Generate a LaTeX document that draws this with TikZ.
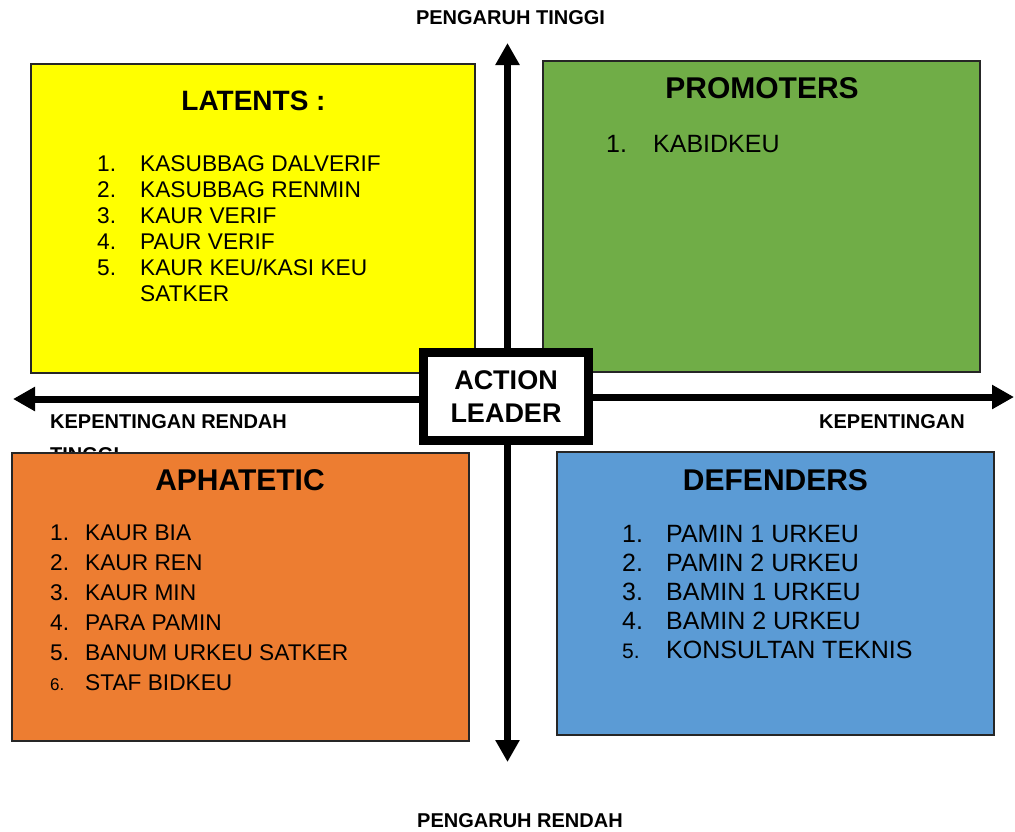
\documentclass[tikz,border=0pt]{standalone}
\usepackage{fontspec}
\setmainfont{Liberation Sans}
\usetikzlibrary{arrows.meta}
\definecolor{cyel}{HTML}{FFFF00}
\definecolor{cgrn}{HTML}{70AD47}
\definecolor{corg}{HTML}{ED7D31}
\definecolor{cblu}{HTML}{5B9BD5}
\begin{document}
\begin{tikzpicture}[x=1pt,y=-1pt,
  quad/.style={draw=black!85, line width=1.3pt, inner sep=0pt, outer sep=0pt, anchor=north west},
  ttl/.style={font=\bfseries\fontsize{30}{35}\selectfont, anchor=base, inner sep=0pt},
  itm/.style={font=\fontsize{22.7}{27}\selectfont, anchor=base west, inner sep=0pt},
  itmb/.style={font=\fontsize{25}{29}\selectfont, anchor=base west, inner sep=0pt},
  lbl/.style={font=\bfseries\fontsize{20}{24}\selectfont, inner sep=0pt},
  axis/.style={line width=7pt, -{Triangle[length=22pt,width=23pt]}}
]
\useasboundingbox (0,0) rectangle (1015,831);

% axis labels
\node[lbl, anchor=base] (ptop) at (510.5,24.5) {PENGARUH TINGGI};
\node[lbl, anchor=base] (pbot) at (520,827) {PENGARUH RENDAH};
\node[lbl, anchor=base west] (krend) at (50,428) {KEPENTINGAN RENDAH};
\node[lbl, anchor=base west] (ktinggi) at (50,461) {TINGGI};
\node[lbl, anchor=base west] (kright) at (819,428) {KEPENTINGAN};

% quadrants
\node[quad, fill=cyel, minimum width=444pt, minimum height=309pt] (lat) at (31,64) {};
\node[quad, fill=cgrn, minimum width=437pt, minimum height=311pt] (pro) at (543,61) {};
\node[quad, fill=corg, minimum width=457pt, minimum height=288pt] (aph) at (12,453) {};
\node[quad, fill=cblu, minimum width=437pt, minimum height=283pt] (def) at (557,452) {};

% axis end points
\coordinate (up) at (507.5,43);
\coordinate (down) at (507.5,762);
\coordinate (left) at (13,399);
\coordinate (right) at (1014,397);

% center box
\node[draw=black, fill=white, line width=9pt, minimum width=165pt, minimum height=88pt, inner sep=0pt,
      align=center, font=\bfseries\fontsize{27}{33}\selectfont] (ctr) at (506,396.5) {ACTION\\LEADER};

\draw[axis] (ctr.north -| up) -- (up);
\draw[axis] (ctr.south -| down) -- (down);
\draw[axis] (ctr.west |- left) -- (left);
\draw[axis] (ctr.east |- right) -- (right);

% LATENTS
\node[ttl, font=\bfseries\fontsize{28}{33}\selectfont] (latt) at (253.5,110.5) {LATENTS :};
\node[itm] (ln1) at (97,171) {1.};  \node[itm] (lt1) at (140,171) {KASUBBAG DALVERIF};
\node[itm] (ln2) at (97,197) {2.};  \node[itm] (lt2) at (140,197) {KASUBBAG RENMIN};
\node[itm] (ln3) at (97,223) {3.};  \node[itm] (lt3) at (140,223) {KAUR VERIF};
\node[itm] (ln4) at (97,249) {4.};  \node[itm] (lt4) at (140,249) {PAUR VERIF};
\node[itm] (ln5) at (97,275) {5.};  \node[itm] (lt5) at (140,275) {KAUR KEU/KASI KEU};
\node[itm] (lt6) at (140,301) {SATKER};

% PROMOTERS
\node[ttl] (prot) at (762,98.5) {PROMOTERS};
\node[itmb] (pn1) at (606,152) {1.}; \node[itmb] (pt1) at (653,152) {KABIDKEU};

% APHATETIC
\node[ttl] (apht) at (240,490.5) {APHATETIC};
\node[itm] (an1) at (50,540) {1.}; \node[itm] (at1) at (85,540) {KAUR BIA};
\node[itm] (an2) at (50,570) {2.}; \node[itm] (at2) at (85,570) {KAUR REN};
\node[itm] (an3) at (50,600) {3.}; \node[itm] (at3) at (85,600) {KAUR MIN};
\node[itm] (an4) at (50,630) {4.}; \node[itm] (at4) at (85,630) {PARA PAMIN};
\node[itm] (an5) at (50,660) {5.}; \node[itm] (at5) at (85,660) {BANUM URKEU SATKER};
\node[itm, font=\fontsize{17}{20}\selectfont] (an6) at (50,690) {6.}; \node[itm] (at6) at (85,690) {STAF BIDKEU};

% DEFENDERS
\node[ttl] (deft) at (775.5,490.5) {DEFENDERS};
\node[itmb] (dn1) at (622,542) {1.}; \node[itmb] (dt1) at (666,542) {PAMIN 1 URKEU};
\node[itmb] (dn2) at (622,571) {2.}; \node[itmb] (dt2) at (666,571) {PAMIN 2 URKEU};
\node[itmb] (dn3) at (622,600) {3.}; \node[itmb] (dt3) at (666,600) {BAMIN 1 URKEU};
\node[itmb] (dn4) at (622,629) {4.}; \node[itmb] (dt4) at (666,629) {BAMIN 2 URKEU};
\node[itmb, font=\fontsize{21}{25}\selectfont] (dn5) at (622,658) {5.}; \node[itmb] (dt5) at (666,658) {KONSULTAN TEKNIS};
\end{tikzpicture}
\end{document}
